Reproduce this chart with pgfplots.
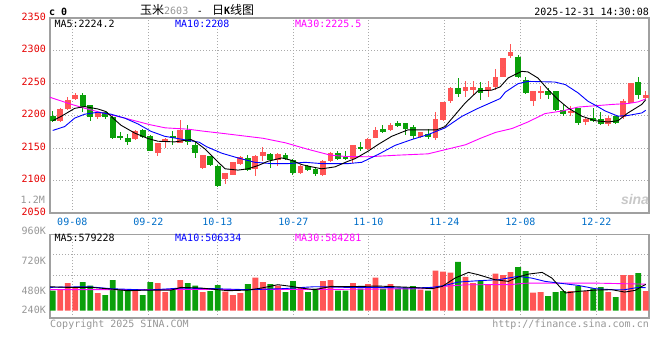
\documentclass[border=0pt]{standalone}
\usepackage{pgfplots}
\pgfplotsset{compat=1.18}
\usepackage{pgfplotstable}
\usepackage{fontspec}
\setmainfont{DejaVu Sans Mono}
\newfontfamily\cjk{Noto Sans CJK SC}
\newfontfamily\wm{Liberation Sans}
\definecolor{cred}{RGB}{255,85,85}
\definecolor{cgreen}{RGB}{10,160,10}
\definecolor{pricered}{RGB}{230,0,0}
\definecolor{lblgray}{RGB}{150,150,150}
\definecolor{dateblue}{RGB}{0,110,200}
\definecolor{framegray}{RGB}{160,160,160}
\definecolor{gridgray}{RGB}{170,170,170}
\definecolor{mablue}{RGB}{0,0,255}
\definecolor{mamag}{RGB}{255,0,255}
\definecolor{wmgray}{RGB}{200,200,200}
\newcommand\fs{\fontsize{10bp}{12bp}\selectfont}
\newcommand\cjkfs{\cjk\fontsize{12bp}{14bp}\selectfont}

% up (red) candles: index, open, high, low, close, volume (K)
\pgfplotstableread{
i o h l c v
1 2191 2212 2190 2210 462
2 2210 2228 2208 2224 608
3 2225 2234 2224 2231 513
6 2198 2204 2194 2204 389
11 2164 2177 2162 2176 440
14 2143 2158 2138 2158 608
15 2161 2166 2150 2164 411
17 2158 2193 2157 2178 674
20 2119 2140 2118 2139 411
23 2103 2112 2094 2111 418
24 2109 2129 2108 2128 345
25 2125 2138 2124 2136 389
27 2118 2139 2107 2138 726
28 2137 2151 2130 2144 630
30 2132 2143 2122 2141 550
33 2112 2124 2110 2123 513
36 2109 2131 2107 2130 652
37 2130 2144 2128 2143 674
40 2133 2155 2127 2154 608
42 2148 2166 2147 2164 586
43 2166 2182 2165 2177 726
45 2177 2189 2176 2186 586
49 2167 2175 2165 2174 462
51 2166 2206 2162 2195 880
52 2193 2221 2191 2221 858
53 2222 2244 2220 2242 836
55 2238 2253 2229 2244 745
56 2239 2253 2232 2244 605
58 2238 2253 2229 2244 579
59 2244 2272 2240 2260 814
60 2260 2289 2259 2288 784
61 2292 2310 2288 2297 850
64 2222 2237 2214 2237 396
65 2234 2245 2225 2237 410
69 2205 2214 2199 2206 432
71 2190 2197 2185 2194 432
74 2187 2199 2184 2196 410
76 2198 2226 2194 2222 784
77 2220 2250 2219 2250 784
79 2227 2237 2225 2232 432
}\uptab

% down (green) candles
\pgfplotstableread{
i o h l c v
0 2199 2207 2190 2192 440
4 2231 2234 2206 2213 630
5 2216 2216 2191 2197 550
7 2206 2207 2194 2197 345
8 2198 2201 2164 2166 674
9 2168 2175 2163 2165 462
10 2166 2172 2155 2160 440
12 2178 2180 2165 2167 345
13 2169 2170 2145 2146 630
16 2168 2176 2155 2166 462
18 2178 2185 2155 2160 608
19 2154 2160 2135 2142 550
21 2137 2138 2123 2124 433
22 2123 2124 2090 2092 564
26 2135 2140 2115 2116 586
29 2141 2143 2120 2131 586
31 2140 2143 2131 2133 411
32 2132 2133 2109 2112 652
34 2123 2124 2115 2116 411
35 2118 2119 2107 2110 484
38 2143 2145 2131 2133 440
39 2136 2145 2131 2133 440
41 2151 2159 2145 2148 484
44 2180 2186 2173 2175 484
46 2189 2192 2182 2184 484
47 2188 2189 2170 2180 513
48 2182 2186 2164 2168 542
50 2172 2179 2164 2167 440
54 2242 2257 2229 2233 1075
57 2243 2251 2224 2235 652
62 2290 2293 2258 2260 960
63 2255 2260 2233 2235 872
66 2237 2243 2226 2232 322
67 2237 2237 2207 2208 410
68 2209 2217 2200 2202 432
70 2211 2211 2185 2189 542
72 2196 2211 2190 2191 491
73 2194 2206 2186 2187 520
75 2199 2199 2187 2189 300
78 2252 2259 2225 2231 828
}\downtab

\pgfplotsset{
  sinaaxis/.style={
    scale only axis, width=599bp, xmin=-0.36, xmax=79.44,
    axis line style={draw=framegray, line width=1.3bp},
    major tick length=0pt, tick style={draw=none},
    xtick={2.611,12.736,21.929,32.054,42.046,52.171,62.297,72.422},
    grid=major,
    major grid style={draw=gridgray, line width=0.9bp, dash pattern=on 1bp off 2bp},
    tick label style={font=\fs},
  },
  wick/.style={only marks, mark=none, mark size=0pt, mark options={draw=none, fill=none}, forget plot,
    error bars/.cd, y dir=both, y explicit, error mark=none,
    error bar style={draw=#1, line width=1bp, solid}},
  body/.style={only marks, mark=none, mark size=0pt, mark options={draw=none, fill=none}, forget plot,
    error bars/.cd, y dir=both, y explicit, error mark=none,
    error bar style={draw=#1, line width=5.8bp, solid}},
}

\begin{document}
\begin{tikzpicture}
\path[use as bounding box] (0,0) rectangle (660bp,-360bp);

% ---------- price panel ----------
\begin{axis}[sinaaxis, at={(50bp,-213bp)}, anchor=south west, height=195bp,
  ymin=2050, ymax=2350, ytick={2050,2100,2150,2200,2250,2300,2350},
  yticklabels={2050,2100,2150,2200,2250,2300,2350},
  yticklabel style={text=pricered, inner sep=0pt, xshift=-4bp, yshift=1.5bp},
  xticklabels={09-08,09-22,10-13,10-27,11-10,11-24,12-08,12-22},
  xticklabel style={text=dateblue, inner sep=0pt, anchor=center, yshift=-8.7bp},
]
\addplot[wick=cred] table[x=i, y expr={(\thisrow{h}+\thisrow{l})/2}, y error expr={(\thisrow{h}-\thisrow{l})/2}] \uptab;
\addplot[wick=cgreen] table[x=i, y expr={(\thisrow{h}+\thisrow{l})/2}, y error expr={(\thisrow{h}-\thisrow{l})/2}] \downtab;
\addplot[body=cred] table[x=i, y expr={(\thisrow{o}+\thisrow{c})/2}, y error expr={max(abs(\thisrow{o}-\thisrow{c})/2,0.8)}] \uptab;
\addplot[body=cgreen] table[x=i, y expr={(\thisrow{o}+\thisrow{c})/2}, y error expr={max(abs(\thisrow{o}-\thisrow{c})/2,0.8)}] \downtab;
% MA30
\addplot[mamag, line width=0.9bp, mark=none] coordinates {
(-0.36,2228) (2,2219) (4,2212) (6.3,2205) (9.6,2196) (12.9,2186) (15,2181) (18,2179) (20,2176) (23,2172) (28,2165) (31,2158) (34,2148) (37,2139) (39,2137) (42,2136.5) (46,2139) (50,2141) (52.5,2148) (55,2155) (57,2165) (59,2174) (61.2,2180) (63.3,2190) (65.6,2203) (67.9,2207) (70,2213) (72.3,2215) (74.5,2217) (76.7,2218.5) (78,2221) (79,2225.5)};
% MA10
\addplot[mablue, line width=0.9bp, mark=none] coordinates {
(0,2177) (1.6,2183) (2.93,2196) (4.26,2202) (6.04,2205) (7.77,2202) (9.59,2196) (11.36,2187) (13.1,2175.6) (14.92,2168) (16.69,2164.5) (18.43,2161) (19.5,2159) (20.5,2152) (22.52,2142) (24.69,2134.7) (26.95,2128) (29.18,2126) (31.35,2126) (33.61,2128) (35.84,2126) (39.34,2126) (41.17,2128) (43.34,2140) (45.6,2154) (47.83,2163) (50,2170.6) (52.27,2181) (54.49,2198.5) (56.66,2211) (59.6,2226) (60.3,2236) (62,2249) (63.3,2252.5) (66.9,2251.5) (68.3,2247.5) (70,2234.7) (71.3,2222) (72.25,2216) (73.6,2207) (75.3,2199) (76.6,2200) (78.5,2204) (79,2208)};
% MA5
\addplot[black, line width=0.9bp, mark=none] coordinates {
(0,2192) (1.1,2198.5) (2.93,2211) (4.26,2213.7) (6.04,2210) (7.1,2206) (8.03,2196) (9.1,2185) (10.92,2173) (12.7,2164.5) (14.03,2160.4) (16.25,2159.4) (18.43,2163) (18.96,2160) (20.29,2148.5) (21.62,2133) (22.96,2118) (24.69,2116) (26.02,2118) (27.35,2123) (28.68,2129.6) (30.51,2134.7) (31.84,2131) (33.17,2124.5) (34.51,2121) (35.84,2118) (37.61,2121) (39.34,2129.6) (40.27,2133.5) (42,2145) (43.34,2155.3) (45.16,2168) (47.34,2178) (49.6,2178) (51.16,2178) (52.27,2183) (53.6,2201) (54.93,2219) (56.66,2238) (58.49,2239) (59.6,2244) (60.66,2257.6) (62.48,2268) (63.32,2267) (64.65,2257.6) (65.98,2240) (67.32,2224.5) (68.65,2211.7) (70.48,2199) (72.25,2192) (73.98,2190) (75.31,2192) (76.64,2204) (78.47,2217) (79,2224.2)};
\end{axis}

% ---------- volume panel ----------
\begin{axis}[sinaaxis, at={(50bp,-318bp)}, anchor=south west, height=83.7bp,
  ymin=-160.6, ymax=1680.8, ytick={779,1232}, yticklabel=\empty, xticklabel=\empty,
]
\addplot[ybar, bar width=5.8bp, bar shift=0pt, fill=cred, draw=none, forget plot] table[x=i, y=v] \uptab;
\addplot[ybar, bar width=5.8bp, bar shift=0pt, fill=cgreen, draw=none, forget plot] table[x=i, y=v] \downtab;
\addplot[mamag, line width=0.9bp, mark=none] coordinates {
(-0.63,462) (38,470) (50,484) (52,535) (55,570) (61,575) (63,605) (72,608) (79,584)};
\addplot[mablue, line width=0.9bp, mark=none] coordinates {
(-0.63,513) (4.7,528) (7.8,484) (12.7,454) (17.1,498) (21.6,484) (26,462) (30.5,484) (34.9,528) (39.3,513) (43.4,513) (47.8,498) (50.5,513) (52.3,557) (54,630) (56.7,660) (59.4,682) (62,755) (63.8,718) (65.6,645) (67.4,608) (70,557) (72.3,484) (74.5,462) (76.2,462) (78,513) (79,506)};
\addplot[black, line width=0.9bp, mark=none] coordinates {
(-0.63,528) (2.04,513) (5.15,513) (8.26,469) (10,440) (12.7,454) (15.8,454) (17.1,513) (19.8,498) (23.4,440) (26,454) (27.8,498) (30,572) (31.8,535) (33.1,498) (34.9,462) (37.1,535) (38.9,528) (43.4,542) (47.8,513) (50.5,484) (51.9,535) (53.6,718) (55.4,843) (56.7,792) (58.9,682) (60.7,645) (62,740) (63.4,806) (65.2,843) (66.5,718) (68.3,390) (70,425) (72.3,454) (74.5,462) (76.2,410) (77.6,447) (78.5,535) (79,579)};
\end{axis}

% ---------- texts ----------
\node[anchor=base west, inner sep=0, font=\fs\bfseries] at (49bp,-15bp) {c 0};
\node[anchor=base west, inner sep=0] at (140bp,-14.3bp) {{\cjkfs 玉米}{\fs\color{lblgray}2603}};
\node[anchor=base, inner sep=0, font=\fs] at (200bp,-14.3bp) {-};
\node[anchor=base west, inner sep=0] at (212bp,-14.3bp) {{\cjkfs 日}{\fs\bfseries K}{\cjkfs 线图}};
\node[anchor=base east, inner sep=0, font=\fs] at (649bp,-15.8bp) {2025-12-31 14:30:08};

\node[anchor=base west, inner sep=0, font=\fs] at (54.3bp,-27.5bp) {MA5:2224.2};
\node[anchor=base west, inner sep=0, font=\fs, text=mablue] at (175bp,-27.5bp) {MA10:2208};
\node[anchor=base west, inner sep=0, font=\fs, text=mamag] at (295bp,-27.5bp) {MA30:2225.5};

\node[anchor=base west, inner sep=0, font=\fs] at (54.3bp,-241.5bp) {MA5:579228};
\node[anchor=base west, inner sep=0, font=\fs, text=mablue] at (175bp,-241.5bp) {MA10:506334};
\node[anchor=base west, inner sep=0, font=\fs, text=mamag] at (295bp,-241.5bp) {MA30:584281};

\node[anchor=base east, inner sep=0, font=\fs, text=lblgray] at (45bp,-203.6bp) {1.2M};
\node[anchor=base east, inner sep=0, font=\fs, text=lblgray] at (46bp,-234.3bp) {960K};
\node[anchor=base east, inner sep=0, font=\fs, text=lblgray] at (46bp,-264.3bp) {720K};
\node[anchor=base east, inner sep=0, font=\fs, text=lblgray] at (46bp,-294.4bp) {480K};
\node[anchor=base east, inner sep=0, font=\fs, text=lblgray] at (46bp,-313.6bp) {240K};

\node[anchor=base west, inner sep=0, font=\fs, text=lblgray] at (50bp,-327.3bp) {Copyright 2025 SINA.COM};
\node[anchor=base east, inner sep=0, font=\fs, text=lblgray] at (649bp,-327.3bp) {http://finance.sina.com.cn};

\node[inner sep=0, text=wmgray, font=\wm\bfseries\itshape\fontsize{14bp}{14bp}\selectfont] at (635bp,-199bp) {sina};
\end{tikzpicture}
\end{document}
